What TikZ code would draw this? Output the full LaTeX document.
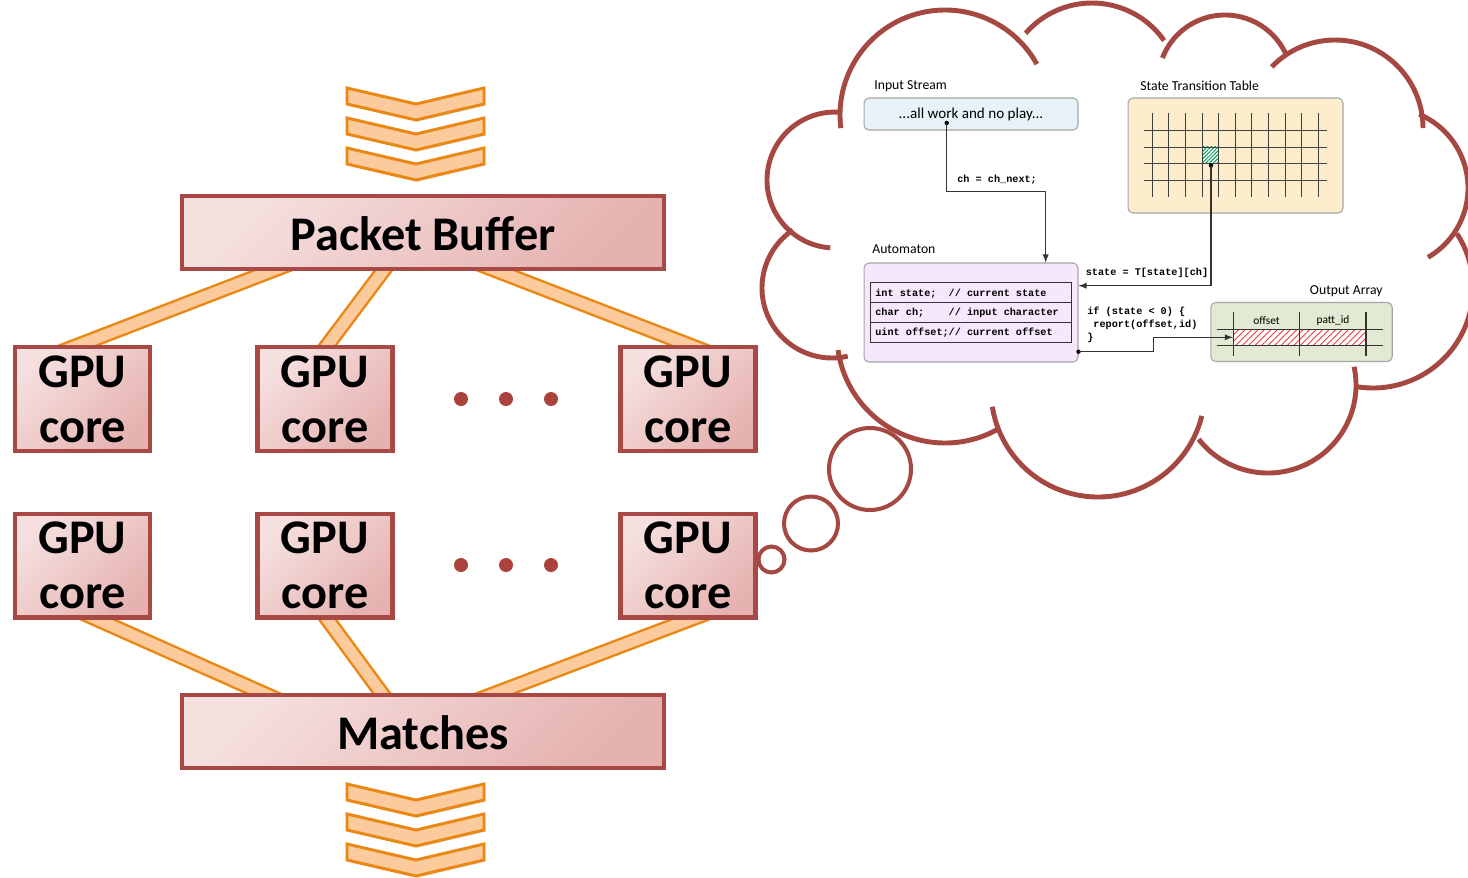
\documentclass[tikz,border=0pt]{standalone}
\usepackage{fontspec}
\setmainfont{Carlito}
\newfontfamily\codefont{Liberation Mono}
\usetikzlibrary{shadows,backgrounds,patterns.meta}
\definecolor{boxedge}{RGB}{169,73,69}
\definecolor{boxlight}{RGB}{245,224,223}
\definecolor{boxdark}{RGB}{229,178,176}
\definecolor{dotred}{RGB}{172,66,60}
\definecolor{bandline}{RGB}{234,136,22}
\definecolor{bandfill}{RGB}{251,203,158}
\definecolor{cloudred}{RGB}{166,72,66}
\definecolor{panelgray}{RGB}{165,165,165}
\definecolor{streamfill}{RGB}{231,243,248}
\definecolor{tablefill}{RGB}{253,237,204}
\definecolor{autofill}{RGB}{246,231,252}
\definecolor{outfill}{RGB}{226,234,211}
\definecolor{hatchgreen}{RGB}{0,160,90}
\definecolor{hatchred}{RGB}{240,60,60}

\begin{document}
\begin{tikzpicture}[x=0.02cm,y=-0.02cm,
  core/.style={draw=boxedge,line width=2.3pt,top color=boxlight,bottom color=boxdark,shading angle=45,
    drop shadow={opacity=.3,shadow xshift=1.2pt,shadow yshift=-1.2pt},
    font=\fontsize{27.5}{31.2}\selectfont\bfseries,align=center,inner sep=0pt,
    minimum width=2.7cm,minimum height=2.08cm},
  wide/.style={core,minimum width=9.64cm,minimum height=1.46cm,text height=21pt,text depth=0pt},
  band/.style={draw=bandline,line width=1.4pt,double=bandfill,double distance=6.2pt,shorten <=-20pt,shorten >=-20pt},
  chev/.style={draw=bandline,fill=bandfill,line width=1.7pt,line join=miter,
    drop shadow={opacity=.2,shadow xshift=1pt,shadow yshift=-1pt}},
  puff/.style={draw=cloudred,line width=2.8pt},
  panel/.style={draw=panelgray,line width=0.6pt,rounded corners=2.8pt,inner sep=0pt},
  lbl/.style={font=\fontsize{7.8}{9}\selectfont,inner sep=0pt},
  mono/.style={font=\codefont\fontsize{5.8}{7.4}\selectfont\bfseries,inner sep=0pt},
  wire/.style={line width=0.6pt,draw=black!80},
  gridline/.style={line width=0.55pt,draw=black!75}]
 \useasboundingbox (0,0) rectangle (1468,877);
 \node[wide] (pb) at (423,232.5) {Packet Buffer};
 \node[wide] (mt) at (423,731.5) {Matches};
 \foreach \x [count=\i] in {82.5,325,688}{%
   \node[core] (gpua\i) at (\x,399) {GPU\\core};
   \node[core] (gpub\i) at (\x,565.5) {GPU\\core};
 }
 \foreach \y in {399,565}{%
   \foreach \x in {461,506,551}{%
     \fill[dotred] (\x,\y) circle[radius=7];
   }
 }
 \foreach \y in {88,118,148,784,814,844}{%
   \draw[chev] (347,\y)--(416,\y+16)--(484,\y)--(484,\y+16)--(416,\y+32)--(347,\y+16)--cycle;
 }
 \begin{pgfonlayer}{background}
 \draw[band] ([xshift=-0.07cm]gpua1.north)--([xshift=-3.04cm]pb.south);
 \draw[band] ([xshift=0.05cm]gpua2.north)--([xshift=-0.8cm]pb.south);
 \draw[band] ([xshift=0.02cm]gpua3.north)--([xshift=1.49cm]pb.south);
 \draw[band] ([xshift=0.3cm]gpub1.south)--([xshift=-3.21cm]mt.north);
 \draw[band] ([xshift=0.05cm]gpub2.south)--([xshift=-0.83cm]mt.north);
 \draw[band] ([xshift=0.04cm]gpub3.south)--([xshift=1.47cm]mt.north);
 \end{pgfonlayer}

 \foreach \cx/\cy/\r/\a/\b in {945/115/105/172.8/331,1092/91/88/221/325,1225/82/67/201/335,
   1335/128/88/224/360,1388/188/80/293/420,1373/288/100/-33/99,1268/385/88/-12/142,
   1098/390/107/14/171,945/335/108/172/60,832/288/70/236/77,835/180/68/94/276}{%
   \draw[puff] (\cx,\cy) ++(\a:\r) arc[start angle=\a,end angle=\b,radius=\r];
 }
 \draw[puff,line width=2.3pt] (870,469) circle[radius=41] (811,523.5) circle[radius=27]
   (771.5,559.5) circle[radius=13];

 \node[lbl,anchor=west] (instrl) at (874,86) {Input Stream};
 \node[panel,fill=streamfill,minimum width=4.28cm,minimum height=0.64cm,
   font=\fontsize{8.6}{10}\selectfont] (instr) at (971,114) {...all work and no play...};
 \node[lbl,anchor=west] (sttl) at (1140,86) {State Transition Table};
 \node[panel,fill=tablefill,minimum width=4.3cm,minimum height=2.3cm] (stt) at (1235.5,155.5) {};
 \node[lbl,anchor=west] (automl) at (872,249) {Automaton};
 \node[panel,fill=autofill,minimum width=4.28cm,minimum height=1.98cm] (autom) at (971,312.5) {};
 \node[lbl,anchor=east] (outal) at (1383,291) {Output Array};
 \node[panel,fill=outfill,minimum width=3.63cm,minimum height=1.18cm] (outa) at (1301.5,332) {};

 \fill[white] (1202.3,146.7) rectangle (1218.7,163.3);
 \fill[pattern={Lines[angle=45,distance=1.5pt,line width=0.6pt]},pattern color=hatchgreen]
   (1202.3,146.7) rectangle (1218.7,163.3);
 \foreach \i in {0,...,10}{%
   \draw[gridline] (1152.3+16.6*\i,113)--(1152.3+16.6*\i,197);
 }
 \foreach \j in {0,...,3}{%
   \draw[gridline] (1144,130.7+16.5*\j)--(1327,130.7+16.5*\j);
 }

 \draw[wire] (870.7,282.7) rectangle (1071.7,342.3) (870.7,302.7)--(1071.7,302.7)
   (870.7,322.3)--(1071.7,322.3);
 \node[mono,anchor=west] (rowa) at (875,293.5) {int state;~~// current state};
 \node[mono,anchor=west] (rowb) at (875,313.3) {char ch;~~~~// input character};
 \node[mono,anchor=west] (rowc) at (875,333.1) {uint offset;// current offset};

 \fill[white] (1233.3,329.3) rectangle (1366,345.3);
 \fill[pattern={Lines[angle=45,distance=2.6pt,line width=0.5pt]},pattern color=hatchred]
   (1233.3,329.3) rectangle (1366,345.3);
 \foreach \x in {1233.3,1299.7,1366}{%
   \draw[wire] (\x,312.3)--(\x,355.7);
 }
 \foreach \y in {329.3,345.3}{%
   \draw[wire] (1216.7,\y)--(1382.7,\y);
 }
 \node[font=\fontsize{6.5}{8}\selectfont,inner sep=0pt] (offl) at (1266.5,320.5) {offset};
 \node[font=\fontsize{6.5}{8}\selectfont,inner sep=0pt] (pattl) at (1333,320.5) {patt\_id};

 \coordinate (chdot) at (946.7,123);
 \fill (chdot) circle[radius=2.2];
 \draw[wire,-latex] (chdot)--++(0,68.7) -| ([xshift=1.494cm]autom.north);
 \node[mono,anchor=west] (chl) at (957,179.5) {ch = ch\_next;};
 \coordinate (celldot) at (1211,165.5);
 \fill (celldot) circle[radius=2.2];
 \draw[wire,-latex] (celldot) |- ([yshift=0.536cm]autom.east);
 \node[mono,anchor=east] (stl) at (1208.5,273) {state = T[state][ch]};
 \fill ([yshift=-0.784cm]autom.east) circle[radius=2.2];
 \draw[wire,-latex] ([yshift=-0.784cm]autom.east)--++(75.3,0) |- ([xshift=0.452cm,yshift=-0.106cm]outa.west);
 \node[mono,anchor=west,align=left] (ifl) at (1087,324.5) {if (state < 0) \{\\\phantom{x}report(offset,id)\\\}};
\end{tikzpicture}
\end{document}
